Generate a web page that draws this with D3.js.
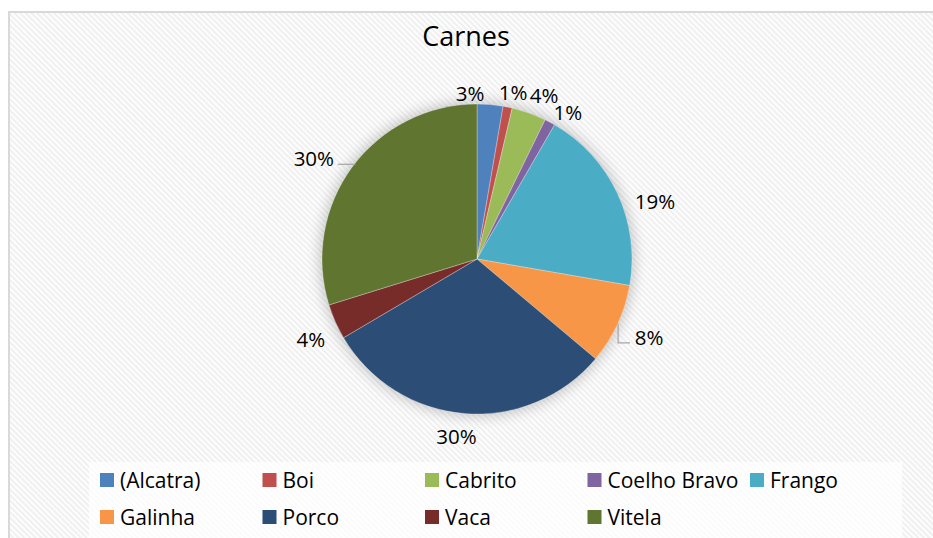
<!DOCTYPE html>
<html>
<head>
<meta charset="utf-8">
<script src="https://cdn.jsdelivr.net/npm/d3@7"></script>
<style>
  body { margin: 0; background: #fff; }
  text { font-family: "Open Sans", "Noto Sans", sans-serif; fill: #000; }
</style>
</head>
<body>
<div id="chart"></div>
<script>

// data
const categories = ['(Alcatra)', 'Boi', 'Cabrito', 'Coelho Bravo', 'Frango', 'Galinha', 'Porco', 'Vaca', 'Vitela'];
const values     = [2.7, 0.95, 3.6, 1.1, 19.4, 8.4, 30.4, 3.7, 29.8];
const colors     = ['#4F81BD', '#C0504D', '#9BBB59', '#8064A2', '#4BACC6', '#F79646', '#2C4D75', '#772C2A', '#5F7530'];

// label nudges (px) away from the default outside position, like Excel's best fit
const labelNudge = [[-22, 10], [1, 6.5], [7.6, 2.7], [7.6, 9], [17.6, 16.8], [11.6, 3.2], [-5.9, 0.6], [-4.3, 8], [-20.7, 4.3]];

const width  = 933,
      height = 538,
      cx     = 477,
      cy     = 259,
      radius = 155;

const svg = d3.select('#chart')
    .append('svg')
      .attr('width',  width)
      .attr('height', height);

const defs = svg.append('defs');

// diagonal hatch background
const pat = defs.append('pattern')
    .attr('id', 'hatch')
    .attr('patternUnits', 'userSpaceOnUse')
    .attr('width', 4)
    .attr('height', 4)
    .attr('patternTransform', 'rotate(-45)');
pat.append('rect').attr('width', 4).attr('height', 4).attr('fill', '#fdfdfd');
pat.append('rect').attr('width', 2).attr('height', 4).attr('fill', '#f0f0f0');

const blur = defs.append('filter')
    .attr('id', 'glow')
    .attr('x', '-30%').attr('y', '-30%')
    .attr('width', '160%').attr('height', '160%');
blur.append('feGaussianBlur').attr('stdDeviation', 7);

// chart area
svg.append('rect')
    .attr('x', 9)
    .attr('y', 12)
    .attr('width', 940)
    .attr('height', 540)
    .attr('fill', 'url(#hatch)')
    .attr('stroke', '#d9d9d9')
    .attr('stroke-width', 2);

// title
svg.append('text')
    .attr('x', 466)
    .attr('y', 46)
    .attr('text-anchor', 'middle')
    .style('font-size', '27px')
    .text('Carnes');

const g = svg.append('g')
    .attr('transform', `translate(${cx}, ${cy})`);

// soft shadow round the pie
g.append('circle')
    .attr('r', radius + 2)
    .attr('fill', '#000')
    .attr('opacity', 0.22)
    .attr('filter', 'url(#glow)');

const pie = d3.pie()
    .value(d => d)
    .sort(null);

const arc = d3.arc()
    .innerRadius(0)
    .outerRadius(radius);

const arcs = pie(values);
const total = d3.sum(values);
const pct = d3.format('.0%');

g.selectAll('path')
    .data(arcs)
    .enter()
    .append('path')
    .attr('d', arc)
    .attr('fill', (d, i) => colors[i])
    .attr('stroke', '#fff')
    .attr('stroke-width', 0.3);

// labels
const labelR = radius + 22;
const labelPos = arcs.map((d, i) => {
    const a = (d.startAngle + d.endAngle) / 2;
    return [labelR * Math.sin(a) + labelNudge[i][0], -labelR * Math.cos(a) + labelNudge[i][1]];
});

g.selectAll('.label')
    .data(arcs)
    .enter()
    .append('text')
    .attr('class', 'label')
    .attr('x', (d, i) => labelPos[i][0])
    .attr('y', (d, i) => labelPos[i][1])
    .attr('text-anchor', 'middle')
    .attr('dominant-baseline', 'central')
    .style('font-size', '20.5px')
    .text(d => pct(d.value / total));

// leader lines (Vitela and Galinha)
const onCircleX = (y, sign) => sign * Math.sqrt(radius * radius - y * y);
const lineVit = (() => {
    const p = labelPos[8], y = p[1] + 6;
    return [[p[0] + 24, y], [onCircleX(y, -1) + 1, y]];
})();
const lineGal = (() => {
    const p = labelPos[5], y = p[1] + 6, x0 = p[0] - 19, x1 = x0 - 12;
    return [[x0, y], [x1, y], [x1, Math.sqrt(radius * radius - x1 * x1) + 1]];
})();
g.selectAll('.leader')
    .data([lineVit, lineGal])
    .enter()
    .append('path')
    .attr('class', 'leader')
    .attr('d', d3.line())
    .attr('fill', 'none')
    .attr('stroke', '#a6a6a6')
    .attr('stroke-width', 1.2);

// legend
svg.append('rect')
    .attr('x', 89)
    .attr('y', 462)
    .attr('width', 813)
    .attr('height', 90)
    .attr('fill', '#fff')
    .attr('opacity', 0.7);

const legend = svg.selectAll('.legend')
    .data(categories)
    .enter()
    .append('g')
    .attr('class', 'legend')
    .attr('transform', (d, i) => `translate(${100 + (i % 5) * 162.5}, ${480 + Math.floor(i / 5) * 37})`);

legend.append('rect')
    .attr('y', -7)
    .attr('width', 14)
    .attr('height', 14)
    .attr('fill', (d, i) => colors[i]);

legend.append('text')
    .attr('x', 20)
    .attr('dominant-baseline', 'central')
    .style('font-size', '21px')
    .text(d => d);

</script>
</body>
</html>
